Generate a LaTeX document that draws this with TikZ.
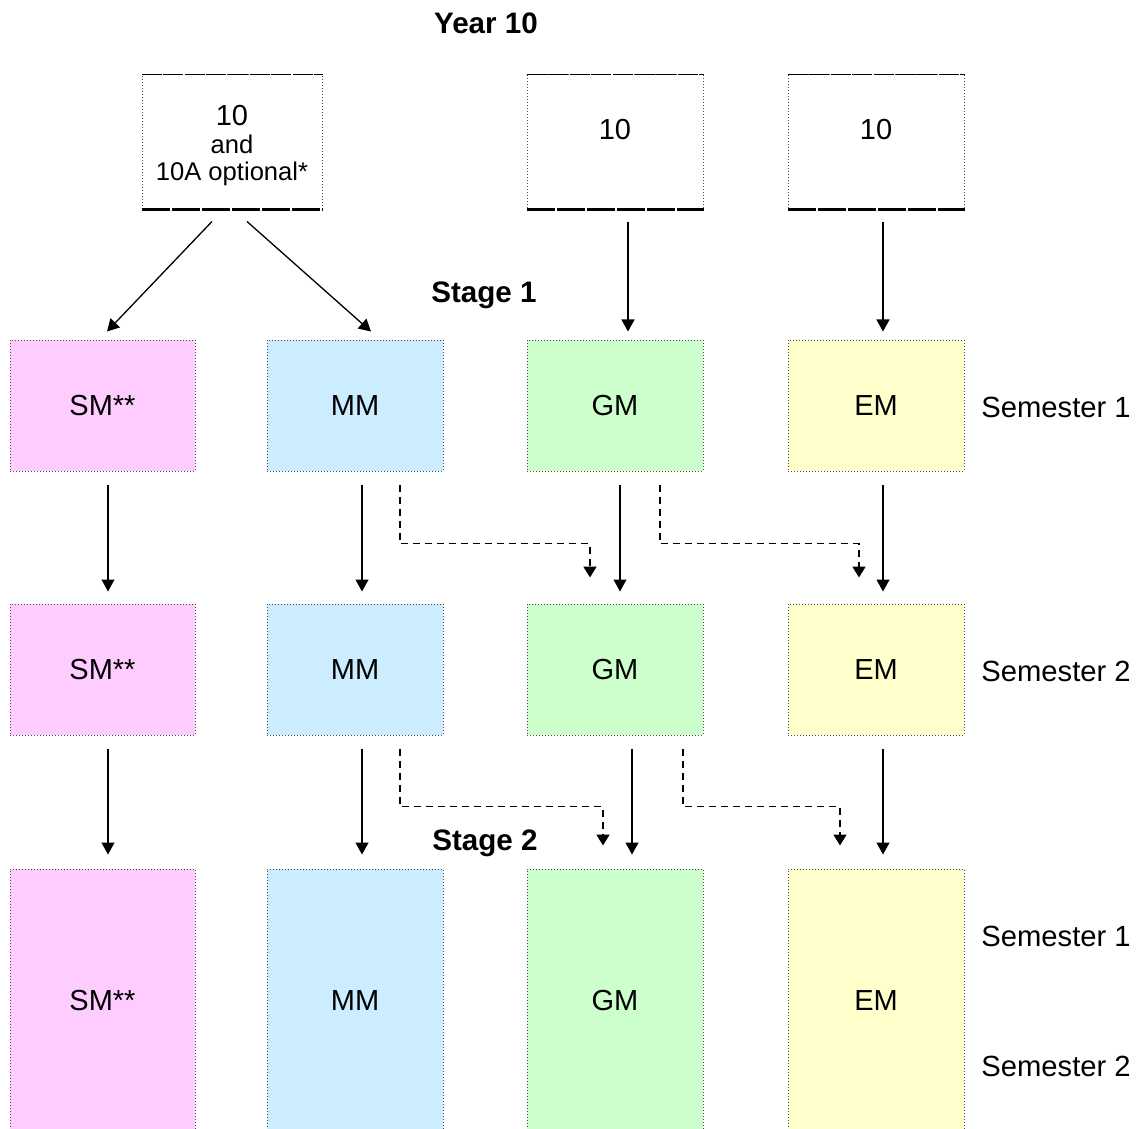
\documentclass[tikz,border=0pt]{standalone}
\usepackage{fontspec}
\setmainfont{Liberation Sans}
\usetikzlibrary{arrows.meta}

\definecolor{smpink}{HTML}{FFCCFF}
\definecolor{mmblue}{HTML}{CCECFF}
\definecolor{gmgreen}{HTML}{CCFFCC}
\definecolor{emyellow}{HTML}{FFFFCC}

\tikzset{
  subj/.style={draw=gray!60!black, densely dotted, line width=0.5pt, inner sep=0pt,
    minimum width=88pt, minimum height=65.5pt, font=\fontsize{14.5}{16}\selectfont},
  yrbox/.style={subj, fill=white, minimum height=67pt},
  topedge/.style={line width=0.6pt, dash pattern=on 10pt off 0.8pt},
  botedge/.style={line width=1.1pt, dash pattern=on 14pt off 1pt},
  heading/.style={font=\fontsize{14.8}{16}\selectfont\bfseries, anchor=base, inner sep=0pt},
  semlabel/.style={font=\fontsize{14.6}{16}\selectfont, anchor=base west, inner sep=0pt},
  arr/.style={line width=0.65pt, -{Triangle[width=6.5pt,length=6pt]}},
  darr/.style={line width=0.9pt, dash pattern=on 3.5pt off 2.5pt,
    -{Triangle[width=6.5pt,length=5.5pt]}}
}

\begin{document}
\begin{tikzpicture}[x=0.5pt,y=-0.5pt]
  \useasboundingbox (0,0) rectangle (1137,1129);

  \node[heading] (year) at (486,34) {Year 10};
  \node[heading] (stagea) at (484,303) {Stage 1};
  \node[heading] (stageb) at (485,850) {Stage 2};

%% year 10 boxes
  \node[yrbox, minimum width=90pt,
    label={[yshift=-2pt,align=center,font=\fontsize{12.8}{13.5}\selectfont]center:{\fontsize{14.5}{14}\selectfont 10}\\[0.5pt]and\\10A optional*}]
    (y10a) at (232,142) {};
  \node[yrbox, label={[yshift=6pt,font=\fontsize{14.5}{16}\selectfont]center:10}] (y10b) at (615,142) {};
  \node[yrbox, label={[yshift=6pt,font=\fontsize{14.5}{16}\selectfont]center:10}] (y10c) at (876,142) {};
  \foreach \b in {y10a,y10b,y10c} {
    \draw[topedge] (\b.north west) -- (\b.north east);
    \draw[botedge] (\b.south west) -- (\b.south east);
  }

%% stage 1, semester 1
  \node[subj, fill=smpink, minimum width=92.5pt] (sma) at (102.5,405.5) {SM**};
  \node[subj, fill=mmblue] (mma) at (355,405.5) {MM};
  \node[subj, fill=gmgreen] (gma) at (615,405.5) {GM};
  \node[subj, fill=emyellow] (ema) at (876,405.5) {EM};

%% stage 1, semester 2
  \node[subj, fill=smpink, minimum width=92.5pt] (smb) at (102.5,669.5) {SM**};
  \node[subj, fill=mmblue] (mmb) at (355,669.5) {MM};
  \node[subj, fill=gmgreen] (gmb) at (615,669.5) {GM};
  \node[subj, fill=emyellow] (emb) at (876,669.5) {EM};

%% stage 2
  \node[subj, fill=smpink, minimum width=92.5pt, minimum height=132pt] (smc) at (102.5,1001) {SM**};
  \node[subj, fill=mmblue, minimum height=132pt] (mmc) at (355,1001) {MM};
  \node[subj, fill=gmgreen, minimum height=132pt] (gmc) at (615,1001) {GM};
  \node[subj, fill=emyellow, minimum height=132pt] (emc) at (876,1001) {EM};

  \node[semlabel] (sema) at (981,417) {Semester 1};
  \node[semlabel] (semb) at (981,681) {Semester 2};
  \node[semlabel] (semc) at (981,946) {Semester 1};
  \node[semlabel] (semd) at (981,1076) {Semester 2};

%% year 10 -> stage 1
  \draw[arr] ([xshift=-10pt,yshift=-6pt]y10a.south) -- ([xshift=2.25pt,yshift=4pt]sma.north);
  \draw[arr] ([xshift=7.5pt,yshift=-6pt]y10a.south) -- ([xshift=8pt,yshift=4pt]mma.north);
  \draw[arr, shorten <=6.5pt, shorten >=4pt] ([xshift=6.5pt]y10b.south) -- ([xshift=6.5pt]gma.north);
  \draw[arr, shorten <=6.5pt, shorten >=4pt] ([xshift=3.5pt]y10c.south) -- ([xshift=3.5pt]ema.north);

%% semester 1 -> semester 2
  \draw[arr, shorten <=6.5pt, shorten >=6pt] ([xshift=2.75pt]sma.south) -- ([xshift=2.75pt]smb.north);
  \draw[arr, shorten <=6.5pt, shorten >=6pt] ([xshift=3.5pt]mma.south) -- ([xshift=3.5pt]mmb.north);
  \draw[arr, shorten <=6.5pt, shorten >=6pt] ([xshift=2.5pt]gma.south) -- ([xshift=2.5pt]gmb.north);
  \draw[arr, shorten <=6.5pt, shorten >=6pt] ([xshift=3.5pt]ema.south) -- ([xshift=3.5pt]emb.north);
  \draw[darr] ([xshift=22.5pt,yshift=-6.5pt]mma.south) -- ++(0,59) -| ([xshift=-12.5pt,yshift=13pt]gmb.north);
  \draw[darr] ([xshift=22.5pt,yshift=-6.5pt]gma.south) -- ++(0,59) -| ([xshift=-8.5pt,yshift=13pt]emb.north);

%% semester 2 -> stage 2
  \draw[arr, shorten <=6.5pt, shorten >=7pt] ([xshift=2.75pt]smb.south) -- ([xshift=2.75pt]smc.north);
  \draw[arr, shorten <=6.5pt, shorten >=7pt] ([xshift=3.5pt]mmb.south) -- ([xshift=3.5pt]mmc.north);
  \draw[arr, shorten <=6.5pt, shorten >=7pt] ([xshift=8.5pt]gmb.south) -- ([xshift=8.5pt]gmc.north);
  \draw[arr, shorten <=6.5pt, shorten >=7pt] ([xshift=3.5pt]emb.south) -- ([xshift=3.5pt]emc.north);
  \draw[darr] ([xshift=22.5pt,yshift=-6.5pt]mmb.south) -- ++(0,58) -| ([xshift=-6pt,yshift=11.5pt]gmc.north);
  \draw[darr] ([xshift=34pt,yshift=-6.5pt]gmb.south) -- ++(0,58) -| ([xshift=-18pt,yshift=11.5pt]emc.north);

\end{tikzpicture}
\end{document}
